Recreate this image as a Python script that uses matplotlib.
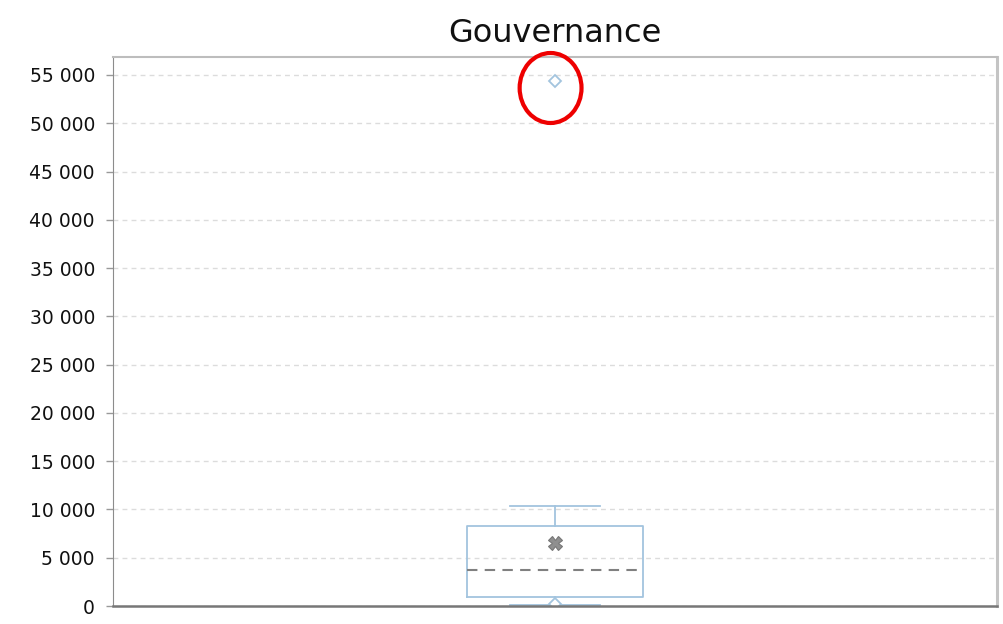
import matplotlib
matplotlib.use("Agg")
import matplotlib.pyplot as plt
from matplotlib.patches import Ellipse
from matplotlib.ticker import FuncFormatter, MultipleLocator

# Summary statistics for the "Gouvernance" distribution
title = "Gouvernance"
whisker_low = 100
q1 = 930
median = 3730
q3 = 8290
whisker_high = 10350
mean = 6520
outliers = [54380, 250]

box_color = "#a3c4de"
grey = "#808080"

fig = plt.figure(figsize=(10.04, 6.24), dpi=100)
ax = fig.add_axes([113 / 1004, 18 / 624, 884 / 1004, 549 / 624])

stats = [dict(whislo=whisker_low, q1=q1, med=median, q3=q3, whishi=whisker_high,
              mean=mean, fliers=outliers, label="")]
ax.bxp(stats, positions=[1], widths=0.198, capwidths=0.102,
       showmeans=True, meanline=False, patch_artist=False,
       boxprops=dict(color=box_color, linewidth=1.3),
       whiskerprops=dict(color=box_color, linewidth=1.3),
       capprops=dict(color=box_color, linewidth=1.3),
       medianprops=dict(color=grey, linewidth=1.5, linestyle=(0, (5, 3.5))),
       meanprops=dict(marker="X", markerfacecolor="#8f8f8f", markeredgecolor="#777777",
                      markersize=9.5, markeredgewidth=0.8),
       flierprops=dict(marker="D", markerfacecolor="white", markeredgecolor=box_color,
                       markersize=6.5, markeredgewidth=1.3))

ax.set_xlim(0.5, 1.5)
ax.set_ylim(0, 56860)
ax.set_xticks([])

ax.yaxis.set_major_locator(MultipleLocator(5000))
ax.yaxis.set_major_formatter(FuncFormatter(lambda v, _: f"{v:,.0f}".replace(",", " ")))
ax.tick_params(axis="y", labelsize=13.5, length=5, width=1, color="#999999", pad=8,
               labelcolor="#111111")

ax.grid(axis="y", color="#dcdcdc", linestyle=(0, (3.5, 3)), linewidth=1)
ax.set_axisbelow(True)

ax.spines["left"].set_color("#8c8c8c")
ax.spines["bottom"].set_color("#777777")
ax.spines["bottom"].set_linewidth(1.8)
ax.spines["top"].set_color("#bdbdbd")
ax.spines["top"].set_linewidth(1.5)
ax.spines["right"].set_color("#c4c4c4")
ax.spines["right"].set_linewidth(2.2)

ax.set_title(title, fontsize=23, color="#111111", pad=11)

# Highlight around the top outlier
ax.add_patch(Ellipse((0.995, 53650), width=0.070, height=7250, fill=False,
                     edgecolor="#ee0000", linewidth=3, zorder=5, clip_on=False))

fig.savefig("out.png", dpi=100)
